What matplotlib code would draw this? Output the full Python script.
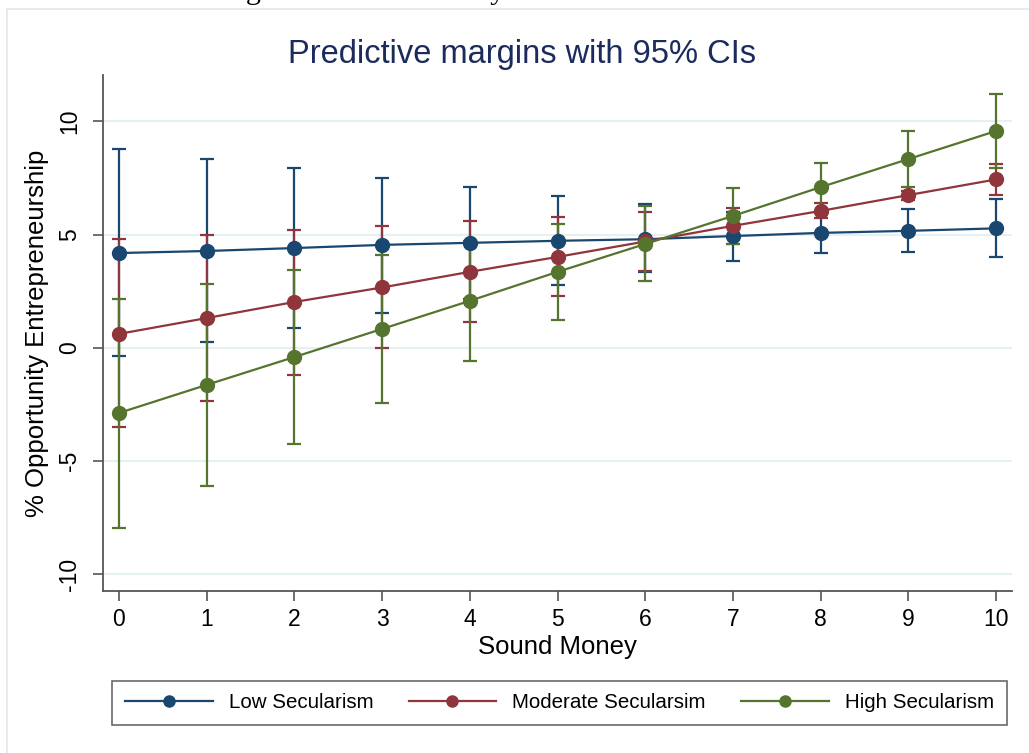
import matplotlib
matplotlib.use("Agg")
import matplotlib.pyplot as plt
from matplotlib.lines import Line2D
import numpy as np

plt.rcParams['font.family'] = ['Liberation Sans', 'DejaVu Sans']
plt.rcParams['axes.unicode_minus'] = False

# Sound Money levels
sound_money = [0, 1, 2, 3, 4, 5, 6, 7, 8, 9, 10]

# predictive margins and 95% CI bounds
low_margin = [4.19, 4.28, 4.41, 4.55, 4.64, 4.73, 4.80, 4.94, 5.08, 5.17, 5.28]
low_upper = [8.77, 8.34, 7.93, 7.50, 7.10, 6.71, 6.36, 6.00, 5.95, 6.12, 6.56]
low_lower = [-0.36, 0.27, 0.90, 1.55, 2.18, 2.78, 3.36, 3.86, 4.20, 4.24, 4.02]

mod_margin = [0.62, 1.32, 2.03, 2.67, 3.36, 4.02, 4.70, 5.39, 6.05, 6.75, 7.44]
mod_upper = [4.81, 4.99, 5.21, 5.39, 5.61, 5.78, 6.02, 6.20, 6.38, 6.95, 8.10]
mod_lower = [-3.49, -2.34, -1.19, 0.00, 1.15, 2.30, 3.38, 4.58, 5.75, 6.55, 6.75]

high_margin = [-2.87, -1.63, -0.40, 0.84, 2.08, 3.36, 4.59, 5.83, 7.10, 8.34, 9.58]
high_upper = [2.16, 2.83, 3.44, 4.10, 4.73, 5.47, 6.27, 7.06, 8.17, 9.58, 11.21]
high_lower = [-7.95, -6.09, -4.24, -2.43, -0.57, 1.24, 2.96, 4.59, 6.03, 7.10, 7.95]

labels = ['Low Secularism', 'Moderate Secularsim', 'High Secularism']
colors = ['#1a476f', '#90353b', '#55752f']

series = [
    (low_margin, low_lower, low_upper),
    (mod_margin, mod_lower, mod_upper),
    (high_margin, high_lower, high_upper),
]

fig = plt.figure(figsize=(10.29, 7.53), dpi=100)
ax = fig.add_axes([103 / 1029, 1 - 591 / 753, (1012 - 103) / 1029, (591 - 75) / 753])

# CIs first, then the lines on top (like Stata's marginsplot)
for (m, lo, hi), c in zip(series, colors):
    m = np.array(m)
    err = [m - np.array(lo), np.array(hi) - m]
    ax.errorbar(sound_money, m, yerr=err, fmt='none', ecolor=c,
                elinewidth=1.6, capsize=4.8, capthick=1.6, zorder=2)

for (m, lo, hi), c, lab in zip(series, colors, labels):
    ax.plot(sound_money, m, color=c, lw=1.6, marker='o', markersize=10,
            label=lab, zorder=3)

ax.set_xlim(-0.182, 10.18)
ax.set_ylim(-10.73, 12.05)
ax.set_xticks(sound_money)
ax.set_yticks([-10, -5, 0, 5, 10])
ax.grid(axis='y', color='#e6eff1', lw=1.5, zorder=0)
ax.set_axisbelow(True)

for s in ['top', 'right']:
    ax.spines[s].set_visible(False)
for s in ['left', 'bottom']:
    ax.spines[s].set_color('#555555')
    ax.spines[s].set_linewidth(1.3)

ax.tick_params(axis='both', direction='out', length=7, width=1.2,
               color='#555555', labelsize=16.5, labelcolor='black')
ax.tick_params(axis='x', pad=5)
ax.tick_params(axis='y', pad=9)
for t in ax.get_yticklabels():
    t.set_rotation(90)
    t.set_va('center')

ax.set_xlabel('Sound Money', fontsize=18.5, labelpad=3)
ax.set_ylabel('% Opportunity Entrepreneurship', fontsize=18.5, labelpad=6)

fig.text(0.507, 1 - 55 / 753, 'Predictive margins with 95% CIs',
         ha='center', va='center', fontsize=23.5, color='#1a2b5c')

# caption of the page, cut off at the top edge
fig.text(0.512, 1 + 1 / 753, 'Figure 5: Sound Money and Secularism Interaction',
         ha='center', va='baseline', fontsize=21.5, family='Liberation Serif')

# faint outer frame of the graph region
fig.add_artist(Line2D([7 / 1029, 1], [1 - 9 / 753, 1 - 9 / 753],
                      transform=fig.transFigure, color='#e2e8ec', lw=1.2))
fig.add_artist(Line2D([7 / 1029, 7 / 1029], [0, 1 - 9 / 753],
                      transform=fig.transFigure, color='#e2e8ec', lw=1.2))

leg = fig.legend(loc='lower left', ncol=3, mode='expand',
                 bbox_to_anchor=(112 / 1029, 1 - 725 / 753, (1007 - 112) / 1029, 48 / 753),
                 borderaxespad=0, fontsize=14.8, handlelength=4.27,
                 handletextpad=0.78, fancybox=False, edgecolor='#444444',
                 borderpad=0.62, markerscale=0.8)
leg.get_frame().set_linewidth(1.2)

fig.savefig('out.png', dpi=100, facecolor='white')
